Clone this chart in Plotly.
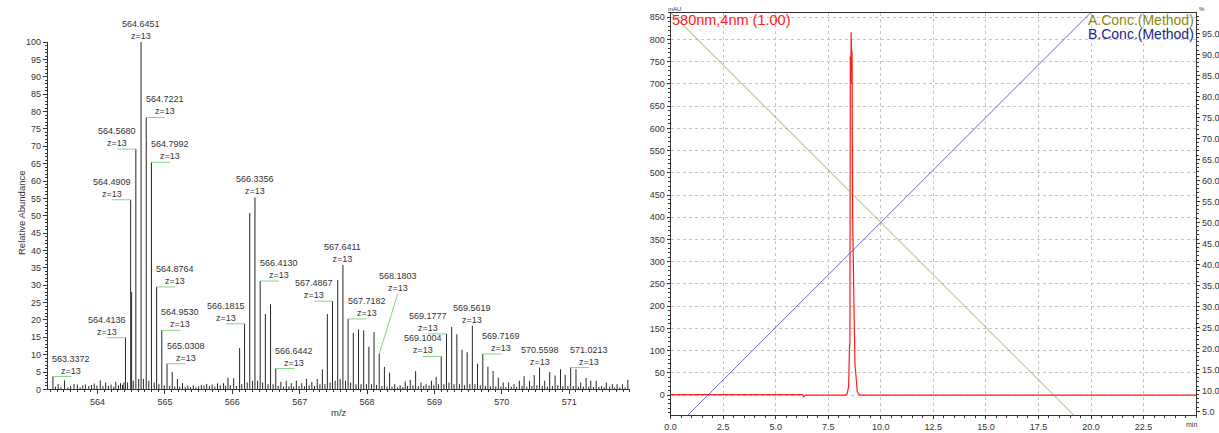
import plotly.graph_objects as go

W, H = 1219, 433

# ---------------- Mass spectrum (left panel) ----------------
# Annotated isotope peaks of the z=13 envelope: m/z and relative abundance (%)
peak_mz = [563.3372, 564.4136, 564.4909, 564.5680, 564.6451, 564.7221, 564.7992,
           564.8764, 564.9530, 565.0308, 566.1815, 566.3356, 566.4130, 566.6442,
           567.4867, 567.6411, 567.7182, 568.1803, 569.1004, 569.1777, 569.5619,
           569.7169, 570.5598, 571.0213]
peak_abund = [3.7, 14.9, 54.6, 69.2, 100.0, 78.3, 65.4,
              29.5, 17.0, 7.4, 18.9, 55.3, 31.2, 6.0,
              25.4, 35.8, 20.3, 10.2, 9.5, 16.0, 18.3,
              10.2, 6.3, 6.3]
peak_charge = [13] * len(peak_mz)

# Remaining (unlabelled) centroids of the spectrum
other_mz = [563.375, 563.415, 563.456, 563.510, 563.560, 563.600, 563.650, 563.700,
            563.740, 563.780, 563.820, 563.870, 563.910, 563.950, 563.990, 564.040,
            564.080, 564.120, 564.160, 564.200, 564.240, 564.270, 564.310, 564.340,
            564.370, 564.390, 564.445, 564.505, 564.530, 564.610, 564.680, 564.760,
            564.840, 564.910, 564.990, 565.070, 565.108, 565.145, 565.185, 565.220,
            565.260, 565.300, 565.340, 565.380, 565.420, 565.460, 565.500, 565.540,
            565.580, 565.620, 565.660, 565.700, 565.740, 565.780, 565.820, 565.870,
            565.900, 565.935, 565.970, 566.020, 566.060, 566.108, 566.140, 566.220,
            566.2585, 566.300, 566.375, 566.450, 566.490, 566.530, 566.567, 566.605,
            566.680, 566.720, 566.760, 566.800, 566.840, 566.875, 566.910, 566.950,
            566.990, 567.030, 567.070, 567.100, 567.140, 567.180, 567.220, 567.260,
            567.300, 567.336, 567.375, 567.410, 567.450, 567.525, 567.5639, 567.600,
            567.680, 567.755, 567.795, 567.835, 567.872, 567.910, 567.949, 567.990,
            568.026, 568.065, 568.103, 568.140, 568.220, 568.257, 568.295, 568.334,
            568.370, 568.410, 568.450, 568.490, 568.530, 568.566, 568.600, 568.640,
            568.680, 568.720, 568.760, 568.800, 568.840, 568.875, 568.920, 568.955,
            568.990, 569.025, 569.060, 569.140, 569.215, 569.255, 569.290, 569.332,
            569.370, 569.409, 569.445, 569.485, 569.525, 569.600, 569.639, 569.680,
            569.755, 569.793, 569.830, 569.870, 569.910, 569.947, 569.985, 570.020,
            570.060, 570.100, 570.140, 570.180, 570.220, 570.260, 570.300, 570.330,
            570.370, 570.410, 570.445, 570.480, 570.520, 570.600, 570.636, 570.675,
            570.710, 570.750, 570.790, 570.830, 570.870, 570.905, 570.940, 570.980,
            571.060, 571.100, 571.135, 571.170, 571.210, 571.250, 571.290, 571.320,
            571.360, 571.400, 571.440, 571.480, 571.520, 571.550, 571.600, 571.640,
            571.675, 571.710, 571.750, 571.790, 571.830, 571.870]
other_abund = [0.8, 1.6, 0.7, 2.6, 0.6, 1.0, 1.5, 1.4,
               0.6, 1.2, 1.4, 1.0, 1.3, 1.7, 1.1, 2.6,
               0.9, 2.0, 1.0, 1.4, 0.8, 2.2, 1.2, 1.8,
               1.3, 2.0, 2.0, 28.0, 2.5, 3.0, 3.0, 2.5,
               2.0, 1.5, 1.2, 1.0, 5.0, 0.8, 3.0, 0.8,
               1.8, 0.6, 1.1, 0.7, 1.2, 0.6, 0.9, 1.3,
               1.1, 1.6, 1.0, 1.4, 0.8, 1.7, 1.2, 1.8,
               1.0, 3.4, 1.2, 3.2, 1.0, 11.9, 1.5, 2.0,
               50.8, 2.5, 2.5, 2.0, 21.7, 1.5, 24.5, 1.5,
               1.0, 2.2, 0.8, 2.5, 0.9, 1.8, 0.8, 2.5,
               1.0, 1.8, 0.9, 3.0, 1.2, 2.2, 1.0, 3.0,
               1.5, 5.8, 1.5, 21.7, 2.0, 2.5, 31.5, 3.0,
               2.5, 2.0, 16.3, 1.5, 17.3, 1.5, 17.0, 1.5,
               12.3, 1.5, 16.5, 1.3, 1.0, 6.5, 0.8, 4.8,
               0.8, 1.5, 0.6, 1.2, 0.7, 2.3, 1.0, 2.8,
               1.2, 5.3, 0.9, 2.0, 1.0, 1.5, 1.2, 2.5,
               1.2, 3.6, 1.5, 1.5, 2.0, 18.0, 1.5, 15.9,
               1.5, 11.4, 1.2, 10.7, 1.5, 1.5, 7.4, 1.2,
               1.0, 6.5, 0.9, 5.3, 0.8, 3.4, 0.8, 2.0,
               0.7, 2.0, 0.8, 1.5, 0.7, 2.5, 1.0, 3.8,
               0.8, 2.5, 1.0, 4.1, 1.2, 1.0, 2.5, 0.8,
               5.0, 1.0, 4.0, 1.2, 5.8, 1.0, 4.2, 1.0,
               1.0, 5.8, 0.8, 2.0, 0.8, 3.3, 0.8, 2.5,
               0.7, 2.5, 0.7, 1.0, 0.6, 2.0, 0.8, 1.5,
               0.6, 1.5, 0.6, 1.5, 0.6, 2.8]

# ---------------- HPLC run (right panel) ----------------
# Detector trace at 580 nm (retention time in min, signal in mAU)
chrom_time = [0.0, 2.0, 4.0, 6.0, 6.28, 6.32, 6.36, 6.42, 7.5, 8.30, 8.40, 8.47,
              8.51, 8.53, 8.55, 8.57, 8.59, 8.61, 8.63, 8.66, 8.70, 8.73, 8.77,
              8.82, 8.88, 8.95, 9.05, 12.0, 16.0, 20.0, 25.0]
chrom_mau = [1.0, 1.0, 1.0, 1.0, 1.0, -4.0, -3.0, 0.0, 0.0, 0.0, 3.0, 20.0,
             110.0, 115.0, 762.0, 700.0, 816.0, 740.0, 775.0, 400.0, 185.0, 180.0, 70.0,
             30.0, 8.0, 2.0, 0.0, 0.0, 0.0, 0.0, 0.0]

# Pump gradient program (% of each solvent)
grad_time = [0.0, 20.0]
conc_a = [100.0, 0.0]
conc_b = [0.0, 100.0]

# axis tick values
ms_xticks = [564, 565, 566, 567, 568, 569, 570, 571]
lc_xticks = [0.0, 2.5, 5.0, 7.5, 10.0, 12.5, 15.0, 17.5, 20.0, 22.5]


def px(x):
    return x / W


def py(y):
    return 1 - y / H


FONT = "Arial"
TXT = "#333333"
LEADER = "#86d486"

fig = go.Figure()

# spectrum sticks
sx, sy = [], []
for m, a in zip(other_mz + peak_mz, other_abund + peak_abund):
    sx += [m, m, None]
    sy += [0, a, None]
fig.add_trace(go.Scatter(x=sx, y=sy, mode="lines", xaxis="x", yaxis="y",
                         line=dict(color="#262626", width=1), hoverinfo="skip",
                         showlegend=False))

# label placement: -1 left of the peak, 1 right, 0 centred; raised labels use a slanted leader
label_side = [1, -1, -1, -1, 0, 1, 1, 1, 1, 1, -1, 0, 1, 1, -1, 0, 1, 1, -1, -1, 0, 1, 0, 1]
raised_label = {568.1803: 27.6}
OFF = 0.275

lx, ly = [], []
annotations = []
for m, a, z, s in zip(peak_mz, peak_abund, peak_charge, label_side):
    cx = m + s * OFF
    ty = raised_label.get(m, a)
    if m in raised_label:
        lx += [cx, m, None]
        ly += [ty, a, None]
    elif s != 0:
        lx += [cx, m, None]
        ly += [a, a, None]
    annotations.append(dict(x=cx, y=ty, xref="x", yref="y", xanchor="center",
                            yanchor="bottom", yshift=-1, showarrow=False,
                            text=f"{m:.4f}<br>z={z}", align="center",
                            font=dict(family=FONT, size=9, color=TXT)))

fig.add_trace(go.Scatter(x=lx, y=ly, mode="lines", xaxis="x", yaxis="y",
                         line=dict(color=LEADER, width=1), hoverinfo="skip",
                         showlegend=False))

# gradient lines and detector trace
fig.add_trace(go.Scatter(x=grad_time, y=conc_a, mode="lines", xaxis="x2", yaxis="y3",
                         line=dict(color="#8f8f38", width=0.8), hoverinfo="skip",
                         showlegend=False))
fig.add_trace(go.Scatter(x=grad_time, y=conc_b, mode="lines", xaxis="x2", yaxis="y3",
                         line=dict(color="#4848a8", width=0.8), hoverinfo="skip",
                         showlegend=False))
fig.add_trace(go.Scatter(x=chrom_time, y=chrom_mau, mode="lines", xaxis="x2", yaxis="y2",
                         line=dict(color="#ff1a1a", width=1.2), hoverinfo="skip",
                         showlegend=False))

tick_font = dict(family=FONT, size=9, color=TXT)


def note(x, y, text, size, color=TXT, xanchor="center", angle=0):
    return dict(x=px(x), y=py(y), xref="paper", yref="paper", text=text,
                xanchor=xanchor, yanchor="middle", textangle=angle, showarrow=False,
                font=dict(family=FONT, size=size, color=color))


# panel texts
annotations += [
    note(335, 417, "m/z", 9.5),
    note(15, 212, "Relative Abundance", 9.5, angle=-90),
    note(668, 15, "580nm,4nm (1.00)", 14.5, color="#ff1a1a", xanchor="left"),
    note(1198, 15, "A.Conc.(Method)", 14, color="#8a8a10", xanchor="right"),
    note(1198, 29.5, "B.Conc.(Method)", 14, color="#1c1c8c", xanchor="right"),
    note(673, 4, "mAU", 6),
    note(1204, 4.5, "%", 6),
    note(1193, 429, "min", 7),
]

fig.update_layout(
    width=W, height=H,
    margin=dict(l=0, r=0, t=0, b=0),
    paper_bgcolor="white", plot_bgcolor="rgba(0,0,0,0)",
    showlegend=False,
    annotations=annotations,
    xaxis=dict(domain=[px(42), px(628)], range=[563.26, 571.90], anchor="y",
               showgrid=False, zeroline=False, showline=True, linecolor="#333",
               linewidth=1, ticks="outside", ticklen=4, tickcolor="#333",
               tickvals=ms_xticks, tickfont=tick_font,
               minor=dict(dtick=0.1, tick0=564, ticklen=2, ticks="outside",
                          tickcolor="#333", showgrid=False)),
    yaxis=dict(domain=[py(393.5), py(38)], range=[0, 100], anchor="x",
               showgrid=False, zeroline=False, showline=True, linecolor="#333",
               linewidth=1, ticks="outside", ticklen=4, tickcolor="#333",
               dtick=5, tick0=0, tickfont=tick_font,
               minor=dict(dtick=1, ticklen=2, ticks="outside", tickcolor="#333",
                          showgrid=False)),
    xaxis2=dict(domain=[px(669), px(1198)], range=[0, 25], anchor="y2",
                showgrid=True, gridcolor="#c4c4c4", griddash="dot", gridwidth=1,
                zeroline=False, showline=True, mirror=True, linecolor="#333",
                linewidth=1, ticks="outside", ticklen=3, tickcolor="#333",
                tickvals=lc_xticks, tickformat=".1f", tickfont=tick_font,
                minor=dict(dtick=0.5, tick0=0, ticklen=2, ticks="outside",
                           tickcolor="#333", showgrid=False)),
    yaxis2=dict(domain=[py(420), py(8)], range=[-45.5, 860], anchor="x2",
                showgrid=True, gridcolor="#c4c4c4", griddash="dot", gridwidth=1,
                zeroline=False, showline=True, linecolor="#333", linewidth=1,
                ticks="outside", ticklen=3, tickcolor="#333", dtick=50, tick0=0,
                tickfont=tick_font,
                minor=dict(dtick=10, tick0=0, ticklen=2, ticks="outside",
                           tickcolor="#333", showgrid=False)),
    yaxis3=dict(overlaying="y2", side="right", anchor="x2", range=[4.07, 99.9],
                showgrid=False, zeroline=False, showline=True, linecolor="#333",
                linewidth=1, ticks="outside", ticklen=3, tickcolor="#333",
                dtick=5, tick0=5, tickformat=".1f", tickfont=tick_font,
                minor=dict(dtick=1, tick0=0, ticklen=2, ticks="outside",
                           tickcolor="#333", showgrid=False)),
)

fig.write_html("out.html")
